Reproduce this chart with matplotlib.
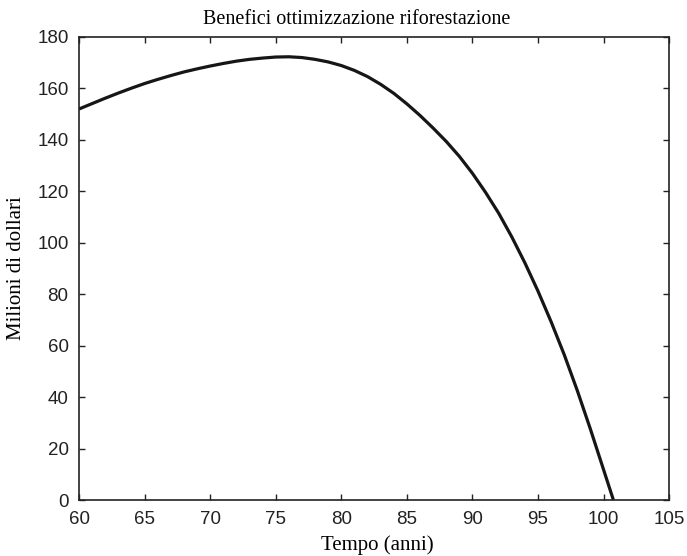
import matplotlib
matplotlib.use("Agg")
import matplotlib.pyplot as plt

# values (years, millions of dollars)
years = [60, 61, 62, 63, 64, 65, 66, 67, 68, 69, 70, 71, 72, 73, 74, 75, 76,
         77, 78, 79, 80, 81, 82, 83, 84, 85, 86, 87, 88, 89, 90, 91, 92, 93,
         94, 95, 96, 97, 98, 99, 100, 100.75]
benefits = [152.0, 154.1, 156.2, 158.2, 160.1, 161.9, 163.5, 165.0, 166.4,
            167.6, 168.7, 169.7, 170.6, 171.3, 171.8, 172.2, 172.3, 172.0,
            171.3, 170.3, 168.9, 167.0, 164.6, 161.6, 158.1, 154.0, 149.5,
            144.6, 139.4, 133.6, 127.0, 119.6, 111.5, 102.3, 92.2, 81.2,
            69.3, 56.5, 42.5, 27.5, 11.8, 0.0]

xticks = [60, 65, 70, 75, 80, 85, 90, 95, 100, 105]
yticks = [0, 20, 40, 60, 80, 100, 120, 140, 160, 180]

serif = ["Liberation Serif", "DejaVu Serif"]
sans = ["Liberation Sans", "DejaVu Sans"]

fig = plt.figure(figsize=(6.87, 5.56), dpi=100)
ax = fig.add_axes([0.115, 0.1007, 0.859, 0.8328])

ax.plot(years, benefits, color="#161616", lw=2.3, solid_capstyle="butt")

ax.set_xlim(60, 105)
ax.set_ylim(0, 180)
ax.set_xticks(xticks)
ax.set_yticks(yticks)
ax.tick_params(direction="in", length=4.5, width=1.0, top=True, right=True,
               labelsize=13.5, colors="#222222")
ax.tick_params(axis="x", pad=8)
ax.tick_params(axis="y", pad=7.5)
for lab in ax.get_xticklabels() + ax.get_yticklabels():
    lab.set_family(sans)
for sp in ax.spines.values():
    sp.set_linewidth(1.2)
    sp.set_color("#222222")

ax.set_title("Benefici ottimizzazione riforestazione", family=serif,
             fontsize=14.5, x=0.471, y=1.0367, va="center", pad=0)
ax.set_xlabel("Tempo (anni)", family=serif, fontsize=15, va="center")
ax.set_ylabel("Milioni di dollari", family=serif, fontsize=15, va="center")
ax.xaxis.set_label_coords(0.505, -0.097)
ax.yaxis.set_label_coords(-0.106, 0.5)

fig.savefig("out.png", dpi=100, facecolor="white")
